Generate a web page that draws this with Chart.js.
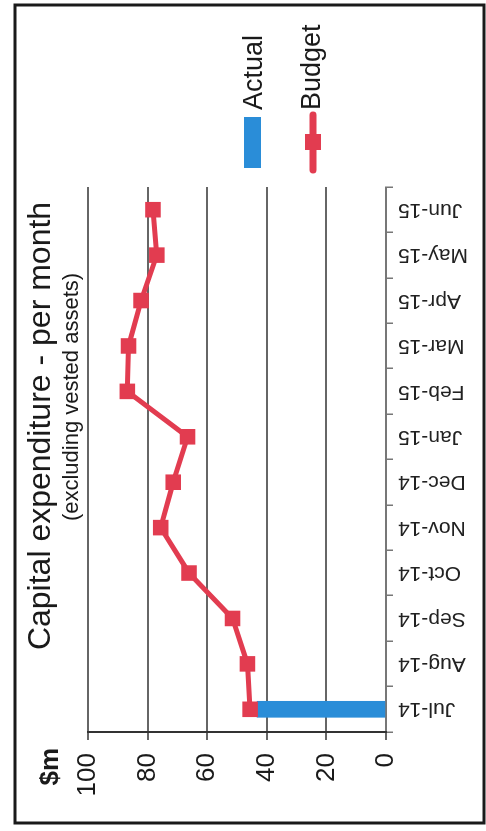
<!DOCTYPE html>
<html><head><meta charset="utf-8">
<script src="https://cdn.jsdelivr.net/npm/chart.js@4/dist/chart.umd.min.js"></script>
<style>
html,body{margin:0;padding:0;background:#fff;overflow:hidden;width:486px;height:831px;}
#wrap{position:absolute;left:0;top:0;width:831px;height:486px;transform-origin:0 0;transform:translateY(831px) rotate(-90deg);}
canvas{display:block;}
</style></head><body>
<div id="wrap"><canvas id="c" width="831" height="486"></canvas></div>
<script>
const categories = ['Jul-14','Aug-14','Sep-14','Oct-14','Nov-14','Dec-14','Jan-15','Feb-15','Mar-15','Apr-15','May-15','Jun-15'];
const actual = [43.3, null, null, null, null, null, null, null, null, null, null, null];
const budget = [45.6, 46.5, 51.5, 66.1, 75.6, 71.4, 66.6, 86.8, 86.4, 82.2, 76.9, 78.2];
const yTicks = [0, 20, 40, 60, 80, 100];
const titleText = 'Capital expenditure - per month';
const subtitleText = '(excluding vested assets)';
const unitLabel = '$m';

const FONT = '"Liberation Sans", Arial, sans-serif';
const RED = '#E23C50';
const BLUE = '#2A8DD8';

const deco = {
  id: 'deco',
  beforeDraw(chart) {
    const ctx = chart.ctx; ctx.save();
    ctx.fillStyle = '#fff'; ctx.fillRect(0, 0, chart.width, chart.height);
    ctx.restore();
  },
  afterDraw(chart) {
    const ctx = chart.ctx; ctx.save();
    ctx.strokeStyle = '#1a1a1a'; ctx.lineWidth = 3;
    ctx.strokeRect(8, 15, 818, 469);
    ctx.fillStyle = '#1a1a1a'; ctx.textBaseline = 'alphabetic';
    ctx.textAlign = 'center';
    ctx.font = '32px ' + FONT; ctx.fillText(titleText, 405, 50);
    ctx.font = '22px ' + FONT; ctx.fillText(subtitleText, 434, 78);
    ctx.textAlign = 'right';
    ctx.font = 'bold 26px ' + FONT; ctx.fillText(unitLabel, 83, 58);
    // legend
    const ds = chart.data.datasets;
    ctx.textAlign = 'left';
    ctx.font = '27px ' + FONT;
    ctx.fillStyle = BLUE; ctx.fillRect(663, 244, 51, 17);
    ctx.fillStyle = '#1a1a1a'; ctx.fillText(ds[0].label, 721, 262);
    ctx.strokeStyle = RED; ctx.lineWidth = 7; ctx.lineCap = 'round';
    ctx.beginPath(); ctx.moveTo(661, 313); ctx.lineTo(716, 313); ctx.stroke();
    ctx.fillStyle = RED; ctx.fillRect(681, 305, 16, 16);
    ctx.fillStyle = '#1a1a1a'; ctx.fillText(ds[1].label, 721, 320);
    ctx.restore();
  }
};

new Chart(document.getElementById('c'), {
  data: {
    labels: categories,
    datasets: [
      { type: 'bar', label: 'Actual', data: actual, backgroundColor: BLUE, barThickness: 16, order: 1 },
      { type: 'line', label: 'Budget', data: budget, borderColor: RED, backgroundColor: RED, borderWidth: 5,
        pointStyle: 'rect', pointRadius: 11, pointBorderWidth: 0, pointBackgroundColor: RED, tension: 0, order: 0 }
    ]
  },
  options: {
    responsive: false, animation: false, devicePixelRatio: 1,
    layout: { padding: { left: 29, top: 88, right: 187, bottom: 5 } },
    plugins: { legend: { display: false }, title: { display: false }, tooltip: { enabled: false } },
    scales: {
      x: {
        offset: true,
        grid: { offset: true, drawOnChartArea: false, drawTicks: true, tickLength: 7, color: '#777', lineWidth: 1.5 },
        border: { color: '#777', width: 2 },
        ticks: { minRotation: 90, maxRotation: 90, autoSkip: false, padding: 5, color: '#222', font: { family: FONT, size: 21 } },
        afterFit: s => { s.height = 95; }
      },
      y: {
        min: 0, max: 100,
        afterBuildTicks: s => { s.ticks = yTicks.map(v => ({ value: v })); },
        ticks: { padding: 13, color: '#1a1a1a', font: { family: FONT, size: 26 } },
        grid: { color: '#666', lineWidth: 2, tickLength: 8, drawTicks: true },
        border: { color: '#333', width: 2 },
        afterFit: s => { s.width = 70; }
      }
    }
  },
  plugins: [deco]
});
</script>
</body></html>
